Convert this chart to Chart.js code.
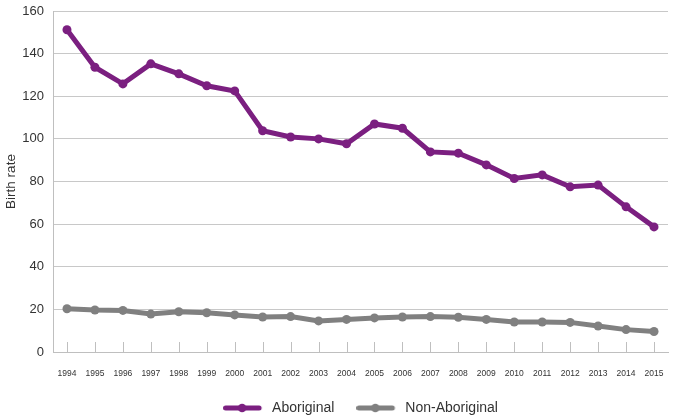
<!DOCTYPE html>
<html>
<head>
<meta charset="utf-8">
<script src="https://cdn.jsdelivr.net/npm/chart.js@4"></script>
<style>
html,body{margin:0;padding:0;background:#fff;}
#wrap{width:675px;height:419px;}
</style>
</head>
<body>
<div id="wrap"><canvas id="c" width="675" height="419"></canvas></div>
<script>
const years = ['1994','1995','1996','1997','1998','1999','2000','2001','2002','2003','2004','2005','2006','2007','2008','2009','2010','2011','2012','2013','2014','2015'];
const aboriginal = [151.2,133.6,125.8,135.2,130.5,124.9,122.5,103.8,100.9,100.0,97.7,107.0,105.0,93.9,93.3,87.8,81.4,83.1,77.5,78.3,68.1,58.7];
const nonAboriginal = [20.3,19.7,19.5,17.8,18.9,18.4,17.4,16.4,16.6,14.6,15.3,16.0,16.4,16.6,16.3,15.3,14.1,14.1,13.9,12.2,10.5,9.6];
const yTicks = [0,20,40,60,80,100,120,140,160];

const PURPLE = '#7B1F80';
const GREY = '#808080';
const FONT = "'Liberation Sans', Arial, sans-serif";

function legendIcon(color){
  const cv = document.createElement('canvas');
  cv.width = 42; cv.height = 10;
  const g = cv.getContext('2d');
  g.strokeStyle = color; g.lineWidth = 5; g.lineCap = 'round';
  g.beginPath(); g.moveTo(2.5,5); g.lineTo(36,5); g.stroke();
  g.fillStyle = color;
  g.beginPath(); g.arc(19,5,4.3,0,Math.PI*2); g.fill();
  return cv;
}

const upTicks = {
  id:'upTicks',
  beforeDatasetsDraw(chart){
    const x = chart.scales.x, ctx = chart.ctx, b = chart.chartArea.bottom;
    ctx.save();
    ctx.strokeStyle = '#BFBFBF'; ctx.lineWidth = 1;
    x.ticks.forEach((t,i)=>{
      const px = Math.round(x.getPixelForTick(i)) + 0.5;
      ctx.beginPath(); ctx.moveTo(px,b); ctx.lineTo(px,b-10); ctx.stroke();
    });
    ctx.restore();
  }
};

new Chart(document.getElementById('c'), {
  type:'line',
  plugins:[upTicks],
  data:{
    labels: years,
    datasets:[
      {label:'Aboriginal', data: aboriginal, borderColor:PURPLE, backgroundColor:PURPLE, borderWidth:5, pointRadius:4.5, pointBackgroundColor:PURPLE, pointBorderWidth:0, pointStyle:'circle', tension:0},
      {label:'Non-Aboriginal', data: nonAboriginal, borderColor:GREY, backgroundColor:GREY, borderWidth:5, pointRadius:4.5, pointBackgroundColor:GREY, pointBorderWidth:0, pointStyle:'circle', tension:0}
    ]
  },
  options:{
    responsive:false,
    animation:false,
    devicePixelRatio:1,
    layout:{padding:{top:11,right:7,left:0,bottom:-6}},
    plugins:{
      tooltip:{enabled:false},
      legend:{
        position:'bottom',
        fullSize:false,
        labels:{
          font:{family:FONT,size:14},
          color:'#333',
          padding:22,
          boxWidth:42,
          pointStyleWidth:42,
          usePointStyle:true,
          generateLabels(chart){
            return chart.data.datasets.map((ds,i)=>({
              text: ds.label,
              fillStyle: ds.borderColor,
              strokeStyle: ds.borderColor,
              lineWidth:0,
              pointStyle: legendIcon(ds.borderColor),
              datasetIndex:i,
              hidden:false,
              fontColor:'#333'
            }));
          }
        }
      }
    },
    scales:{
      x:{
        offset:true,
        grid:{display:false, drawTicks:false},
        border:{display:true,color:'#BFBFBF'},
        ticks:{font:{family:FONT,size:8.5},color:'#333',padding:17,maxRotation:0,autoSkip:false},
        afterFit(s){ s.height = 27; s.paddingLeft = 0; s.paddingRight = 0; }
      },
      y:{
        min:0,max:160,
        afterBuildTicks(s){ s.ticks = yTicks.map(v=>({value:v})); },
        grid:{color:'#C8C8C8', drawTicks:false},
        border:{display:true,color:'#BFBFBF'},
        ticks:{font:{family:FONT,size:13},color:'#333',padding:9},
        title:{display:true,text:'Birth rate',font:{family:FONT,size:13.5},color:'#333',padding:{top:3,bottom:2}},
        afterFit(s){ s.width = 53; s.paddingTop = 0; s.paddingBottom = 0; }
      }
    }
  }
});
</script>
</body>
</html>
